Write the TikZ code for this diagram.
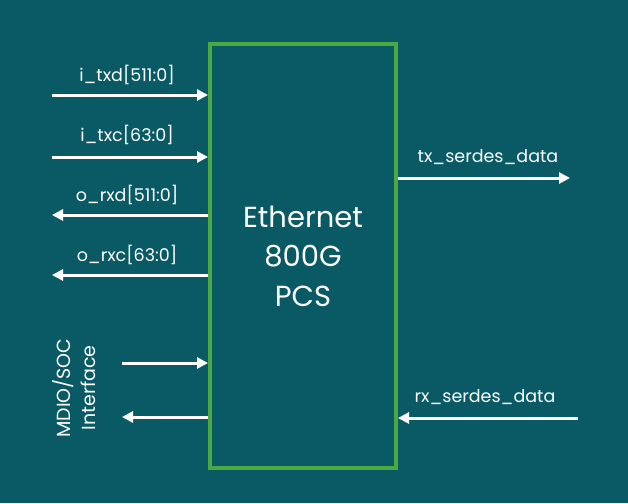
\documentclass[tikz,border=0pt]{standalone}
\usepackage{fontspec}
\setmainfont{Poppins}
\usetikzlibrary{arrows.meta}
\definecolor{bgteal}{HTML}{0A5A65}
\definecolor{pcsgreen}{HTML}{4CA843}
\begin{document}
\begin{tikzpicture}[x=1pt,y=-1pt,
    sig/.style={draw=white,line width=3pt,-{Triangle[length=11pt,width=11pt]}},
    lbl/.style={text=white,font=\fontsize{17.5}{20}\selectfont,inner sep=0pt}]
  \fill[bgteal] (0,0) rectangle (628,503);
  \useasboundingbox (0,0) rectangle (628,503);

  % the block
  \node[draw=pcsgreen,line width=4pt,minimum width=186pt,minimum height=424pt,
        inner sep=0pt,text=white,align=center,
        font=\fontsize{29}{39.5}\selectfont] (pcs) at (303,256) {Ethernet\\800G\\PCS};

  % free ends
  \coordinate (txdin) at (52,95);
  \coordinate (txcin) at (52,157);
  \coordinate (rxdout) at (52,215);
  \coordinate (rxcout) at (52,275);
  \coordinate (mdioin) at (122,363);
  \coordinate (mdioout) at (122,417);
  \coordinate (txsd) at (570,178);
  \coordinate (rxsd) at (578,418);

  \draw[sig] (txdin) -- (txdin -| pcs.west);
  \draw[sig] (txcin) -- (txcin -| pcs.west);
  \draw[sig] (rxdout -| pcs.west) -- (rxdout);
  \draw[sig] (rxcout -| pcs.west) -- (rxcout);
  \draw[sig] (mdioin) -- (mdioin -| pcs.west);
  \draw[sig] (mdioout -| pcs.west) -- (mdioout);
  \draw[sig] (txsd -| pcs.east) -- (txsd);
  \draw[sig] (rxsd) -- (rxsd -| pcs.east);

  \node[lbl] (txdl) at (127,75) {i\_txd[511:0]};
  \node[lbl] (txcl) at (127,135) {i\_txc[63:0]};
  \node[lbl] (rxdl) at (127,195) {o\_rxd[511:0]};
  \node[lbl] (rxcl) at (127,255) {o\_rxc[63:0]};
  \node[lbl] (txsdl) at (488,157) {tx\_serdes\_data};
  \node[lbl] (rxsdl) at (485,397) {rx\_serdes\_data};
  \node[lbl,rotate=90,align=center,font=\fontsize{19}{25}\selectfont] (mdiol) at (74,388) {MDIO/SOC\\Interface};
\end{tikzpicture}
\end{document}
